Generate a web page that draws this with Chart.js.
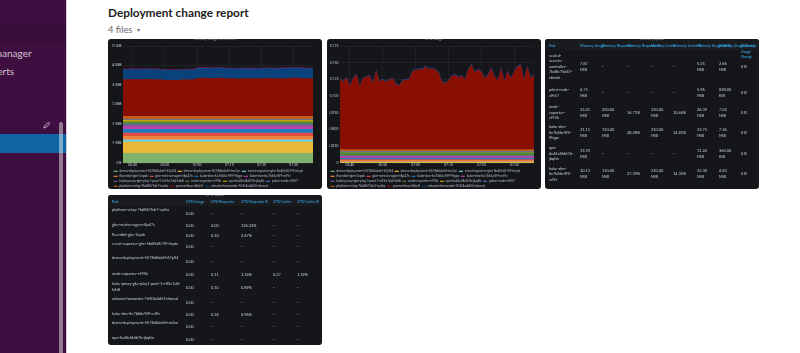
<!DOCTYPE html>
<html>
<head>
<meta charset="utf-8">
<title>Deployment change report</title>
<script src="https://cdn.jsdelivr.net/npm/chart.js@4"></script>
<style>
  html, body { margin: 0; padding: 0; width: 800px; height: 353px; overflow: hidden; background: #fff; font-family: Lato, sans-serif; }
  .abs { position: absolute; white-space: nowrap; }
  #sidebar { position: absolute; left: 0; top: 0; width: 66px; height: 353px; background: #3f0e40; border-right: 1px solid #d9cfd9; overflow: hidden; }
  #sidebar .item { color: #cfc3cf; font-size: 10px; }
  #heading { left: 108px; top: 5px; font-size: 11.8px; font-weight: 700; color: #1d1c1d; }
  #files { left: 108px; top: 24px; font-size: 9.4px; color: #696969; }
  .panel { position: absolute; width: 214px; height: 150px; background: #141619; border-radius: 3px; overflow: hidden; filter: blur(0.35px); }
  .panel canvas { position: absolute; left: 0; top: 0; }
  .title { position: absolute; left: 0; right: 0; top: -3.5px; text-align: center; font-size: 3.6px; color: #9fa7b0; z-index: 2; }
  table { position: absolute; left: 0; top: 0; border-collapse: collapse; table-layout: fixed; font-size: 3.9px; line-height: 5.6px; color: #c7d0d9; }
  th { color: #33a2e5; font-size: 3.7px; font-weight: 600; text-align: left; padding: 4px 0 0 0; vertical-align: top; background: #191b1f; }
  th div { height: 5px; white-space: pre; overflow: visible; }
  td { padding: 0; vertical-align: middle; white-space: pre-line; }
  td.pod { vertical-align: top; padding-top: 1px; padding-left: 4px; }
  th:first-child { padding-left: 4px; }
  .mem td.pod { vertical-align: middle; padding-top: 0; }
</style>
</head>
<body>

<div id="sidebar">
  <div class="abs item" style="left:-27px;top:-10px">Slack alerts</div>
  <div class="abs" style="left:0;top:25px;width:66px;height:18px;background:#350d36"></div>
  <div class="abs item" style="left:-26px;top:47px">alertmanager</div>
  <div class="abs item" style="left:-10px;top:65px">alerts</div>
  <svg class="abs" style="left:43px;top:121px" width="8" height="8" viewBox="0 0 8 8">
    <path d="M1 7 L1.4 5.2 L5.4 1.2 L6.8 2.6 L2.8 6.6 Z" fill="none" stroke="#e6dde6" stroke-width="0.8"/>
  </svg>
  <div class="abs" style="left:0;top:134px;width:66px;height:19px;background:#1164a3"></div>
  <div class="abs" style="left:59px;top:122px;width:4px;height:240px;border-radius:2px;background:rgba(255,255,255,0.45)"></div>
</div>

<div class="abs" id="heading">Deployment change report</div>
<div class="abs" id="files">4 files <span style="font-size:6px;margin-left:2px;vertical-align:1px;color:#696969">&#9662;</span></div>

<div class="panel" style="left:108px;top:39px">
  <canvas id="memChart" width="214" height="164"></canvas>
  <div class="title">Memory Usage (w/o cache)</div>
</div>
<div class="panel" style="left:327px;top:39px">
  <canvas id="cpuChart" width="214" height="164"></canvas>
  <div class="title">CPU Usage</div>
</div>
<div class="panel" style="left:545px;top:39px">
  <table class="mem" id="memTable"></table>
  <div class="title">Memory Quota</div>
</div>
<div class="panel" style="left:108px;top:195px">
  <table class="cpu" id="cpuTable"></table>
  <div class="title">CPU Quota</div>
</div>

<script>
const times = [
    '06:37', '06:38', '06:39', '06:40', '06:41', '06:42', '06:43', '06:44', '06:45', '06:46',
    '06:47', '06:48', '06:49', '06:50', '06:51', '06:52', '06:53', '06:54', '06:55', '06:56',
    '06:57', '06:58', '06:59', '07:00', '07:01', '07:02', '07:03', '07:04', '07:05', '07:06',
    '07:07', '07:08', '07:09', '07:10', '07:11', '07:12', '07:13', '07:14', '07:15', '07:16',
    '07:17', '07:18', '07:19', '07:20', '07:21', '07:22', '07:23', '07:24', '07:25', '07:26',
    '07:27', '07:28', '07:29', '07:30', '07:31', '07:32', '07:33', '07:34', '07:35', '07:36'
];

const pods = [
    'demo-deployment-5578d6dc6f-67p94', 'demo-deployment-5578d6dc6f-tm2zn',
    'event-exporter-gke-5b4f6d57f9-fnrpb', 'fluentbit-gke-2cpsk',
    'gke-metrics-agent-8p47s', 'kube-dns-6c7b66c9f9-9fqpx',
    'kube-dns-6c7b66c9f9-crl9v', 'kube-proxy-gke-play1-pool-1-cff5e1d4-h4t8',
    'node-exporter-vf95k', 'ops-6c46cf4d67b-jbqhb',
    'pdcsi-node-z9t57', 'platform-relay-7bd867fcb7-sx4rx',
    'prometheus-kbb-0', 'robusta-forwarder-7b9f4c4d55-dwcsd',
    'sealed-secrets-controller-7bd8c75d47-c6xwh'
];

const podColors = [
    '#7eb26d', '#eab839', '#6ed0e0', '#ef843c', '#e24d42', '#1f78c1', '#ba43a9', '#705da0',
    '#508642', '#cca300', '#447ebc', '#c15c17', '#890f02', '#0a437c', '#6d1f62'
];

// the small pods are flat over the hour, one reading per pod (first 12 pods)
const memFlat = [97, 110, 23, 33, 34, 36, 30, 15, 28, 14, 9, 31];
const cpuFlat = [0.0003, 0.0012, 0.0003, 0.0024, 0.0014, 0.0018, 0.0026, 0.0012, 0.0050, 0.0002, 0.0010, 0.0030];

const memPrometheus = [
    358, 360, 358, 360, 361, 359, 360, 358, 361, 360,
    359, 358, 357, 354, 352, 351, 353, 352, 355, 358,
    357, 356, 358, 368, 374, 372, 373, 371, 369, 372,
    374, 371, 369, 367, 368, 366, 365, 368, 370, 367,
    369, 368, 366, 368, 370, 372, 369, 368, 366, 367,
    369, 370, 372, 373, 374, 371, 369, 368, 370, 369
];
const memRobusta = [
    98, 97, 99, 98, 97, 98, 97, 99, 98, 98,
    97, 98, 97, 96, 97, 98, 96, 97, 97, 96,
    97, 96, 97, 99, 98, 96, 97, 98, 97, 96,
    97, 98, 96, 97, 98, 96, 97, 95, 96, 97,
    96, 97, 96, 95, 96, 97, 98, 96, 97, 98,
    99, 98, 97, 96, 98, 97, 96, 95, 96, 97
];
const memSealed = [
    8, 8, 8, 8, 8, 8, 8, 8, 8, 8, 8, 8, 8, 8, 8, 8, 8, 8, 8, 8,
    8, 8, 8, 8, 8, 8, 8, 8, 8, 8, 8, 8, 8, 8, 8, 8, 8, 8, 8, 8,
    8, 8, 8, 8, 8, 8, 8, 8, 8, 8, 8, 8, 8, 8, 8, 8, 8, 8, 8, 8
];

const cpuPrometheus = [
    0.1062, 0.1012, 0.1078, 0.0950, 0.1062, 0.1122, 0.0945, 0.1062, 0.1088, 0.1098,
    0.0990, 0.1175, 0.1020, 0.1040, 0.1010, 0.1037, 0.1062, 0.0986, 0.0950, 0.1027,
    0.1037, 0.1047, 0.1165, 0.1190, 0.1200, 0.1200, 0.1240, 0.1200, 0.1215, 0.1190,
    0.1150, 0.1012, 0.0986, 0.1027, 0.1098, 0.1114, 0.1078, 0.1098, 0.1047, 0.1190,
    0.1267, 0.1150, 0.1190, 0.1165, 0.1062, 0.1114, 0.1215, 0.1088, 0.1037, 0.1215,
    0.1027, 0.1165, 0.1062, 0.1165, 0.1240, 0.1257, 0.1037, 0.1240, 0.1062, 0.1114
];
const cpuRobusta = [
    0.0012, 0.0013, 0.0012, 0.0011, 0.0012, 0.0013, 0.0012, 0.0012, 0.0011, 0.0012,
    0.0013, 0.0012, 0.0012, 0.0011, 0.0012, 0.0013, 0.0012, 0.0012, 0.0011, 0.0012,
    0.0013, 0.0012, 0.0012, 0.0011, 0.0012, 0.0013, 0.0012, 0.0012, 0.0011, 0.0012,
    0.0013, 0.0012, 0.0012, 0.0011, 0.0012, 0.0013, 0.0012, 0.0012, 0.0011, 0.0012,
    0.0013, 0.0012, 0.0012, 0.0011, 0.0012, 0.0013, 0.0012, 0.0012, 0.0011, 0.0012,
    0.0013, 0.0012, 0.0012, 0.0011, 0.0012, 0.0013, 0.0012, 0.0012, 0.0011, 0.0012
];
const cpuSealed = [
    0.0002, 0.0002, 0.0002, 0.0002, 0.0002, 0.0002, 0.0002, 0.0002, 0.0002, 0.0002,
    0.0002, 0.0002, 0.0002, 0.0002, 0.0002, 0.0002, 0.0002, 0.0002, 0.0002, 0.0002,
    0.0002, 0.0002, 0.0002, 0.0002, 0.0002, 0.0002, 0.0002, 0.0002, 0.0002, 0.0002,
    0.0002, 0.0002, 0.0002, 0.0002, 0.0002, 0.0002, 0.0002, 0.0002, 0.0002, 0.0002,
    0.0002, 0.0002, 0.0002, 0.0002, 0.0002, 0.0002, 0.0002, 0.0002, 0.0002, 0.0002,
    0.0002, 0.0002, 0.0002, 0.0002, 0.0002, 0.0002, 0.0002, 0.0002, 0.0002, 0.0002
];

const memTicks = ['0 B', '191 MiB', '381 MiB', '572 MiB', '763 MiB', '954 MiB', '1.12 GiB'];
const cpuTicks = ['0', '0.0250', '0.0500', '0.0750', '0.100', '0.125', '0.150', '0.175'];

const memColumns = ['Pod', 'Memory Usage', 'Memory Requests', 'Memory Requests %', 'Memory Limits', 'Memory Limits %', 'Memory Usage (RSS)', 'Memory Usage (Cache)', 'Memory\nUsage\n(Swap)'];
const memRows = [
    ['sealed-\nsecrets-\ncontroller-\n7bd8c75d47-\nc6xwh', '7.87\nMiB', '-', '-', '-', '-', '5.25\nMiB', '2.66\nMiB', '0 B'],
    ['pdcsi-node-\nz9t57', '6.75\nMiB', '-', '-', '-', '-', '5.96\nMiB', '828.00\nKiB', '0 B'],
    ['node-\nexporter-\nvf95k', '33.41\nMiB', '200.00\nMiB', '16.71%', '320.00\nMiB', '10.44%', '26.39\nMiB', '7.02\nMiB', '0 B'],
    ['kube-dns-\n6c7b66c9f9-\n9fqpx', '31.11\nMiB', '110.00\nMiB', '28.28%', '210.00\nMiB', '14.81%', '23.75\nMiB', '7.36\nMiB', '0 B'],
    ['ops-\n6c46cf4d67b-\njbqhb', '13.92\nMiB', '-', '-', '-', '-', '11.24\nMiB', '364.00\nKiB', '0 B'],
    ['kube-dns-\n6c7b66c9f9-\ncrl9v', '30.13\nMiB', '110.00\nMiB', '27.39%', '210.00\nMiB', '14.35%', '25.30\nMiB', '4.83\nMiB', '0 B'],
    ['event-', '', '', '', '', '', '', '', '']
];

const cpuColumns = ['Pod', 'CPU Usage', 'CPU Requests', 'CPU Requests %', 'CPU Limits', 'CPU Limits %'];
const cpuRows = [
    ['platform-relay-7bd867fcb7-sx4rx', '0.00', '-', '-', '-', '-'],
    ['gke-metrics-agent-8p47s', '0.00', '0.00', '126.33%', '-', '-'],
    ['fluentbit-gke-2cpsk', '0.00', '0.10', '2.67%', '-', '-'],
    ['event-exporter-gke-5b4f6d57f9-fnrpb', '0.00', '-', '-', '-', '-'],
    ['demo-deployment-5578d6dc6f-67p94', '0.00', '-', '-', '-', '-'],
    ['node-exporter-vf95k', '0.00', '0.11', '3.34%', '0.27', '1.39%'],
    ['kube-proxy-gke-play1-pool-1-cff5e1d4-\nh4t8', '0.00', '0.10', '0.89%', '-', '-'],
    ['robusta-forwarder-7b9f4c4d55-dwcsd', '0.00', '-', '-', '-', '-'],
    ['kube-dns-6c7b66c9f9-crl9v', '0.00', '0.26', '0.96%', '-', '-'],
    ['demo-deployment-5578d6dc6f-tm2zn', '0.00', '-', '-', '-', '-'],
    ['ops-6c46cf4d67b-jbqhb', '0.00', '-', '-', '-', '-']
];

function stackedChart(id, flat, top3, maxY, step, tickLabels, padding) {
    const series = flat.map(level => times.map(() => level)).concat(top3);
    new Chart(document.getElementById(id), {
        type: 'line',
        data: {
            labels: times,
            datasets: pods.map((pod, i) => ({
                label: pod,
                data: series[i],
                borderColor: podColors[i],
                backgroundColor: podColors[i],
                borderWidth: 0,
                pointRadius: 0,
                tension: 0,
                fill: 'origin',
                stack: 'pods'
            }))
        },
        options: {
            responsive: false,
            animation: false,
            layout: { padding: padding },
            plugins: {
                tooltip: { enabled: false },
                legend: {
                    position: 'bottom',
                    align: 'start',
                    labels: {
                        color: '#aeb6bf',
                        boxWidth: 4,
                        boxHeight: 1.2,
                        padding: 1.6,
                        font: { size: 3.4, lineHeight: 1, family: 'Roboto' }
                    }
                }
            },
            scales: {
                x: {
                    stacked: true,
                    offset: false,
                    grid: { color: 'rgba(255,255,255,0.09)', lineWidth: 0.6, drawTicks: false },
                    border: { display: false },
                    afterBuildTicks: scale => {
                        scale.ticks = scale.ticks.filter(t => times[t.value].endsWith('0'));
                    },
                    afterFit: scale => { scale.height = 5; },
                    ticks: {
                        autoSkip: false,
                        maxRotation: 0,
                        color: '#c7d0d9',
                        padding: 0,
                        font: { size: 3.5, family: 'Roboto' },
                        callback: function (value) { return times[value]; }
                    }
                },
                y: {
                    stacked: true,
                    min: 0,
                    max: maxY,
                    grid: { color: 'rgba(255,255,255,0.09)', lineWidth: 0.6, drawTicks: false },
                    border: { display: false },
                    afterFit: scale => { scale.width = 11; },
                    ticks: {
                        stepSize: step,
                        color: '#c7d0d9',
                        padding: 1.5,
                        font: { size: 3.5, family: 'Roboto' },
                        callback: function (value, index) { return tickLabels[index]; }
                    }
                }
            }
        }
    });
}

function fillTable(id, columns, rows, colWidths, rowHeights) {
    let html = '<colgroup>' + colWidths.map(w => `<col style="width:${w}px">`).join('') + '</colgroup>';
    html += `<tr style="height:${rowHeights[0]}px">` + columns.map(c => `<th><div>${c}</div></th>`).join('') + '</tr>';
    rows.forEach((row, r) => {
        html += `<tr style="height:${rowHeights[r + 1]}px">`;
        row.forEach((cell, c) => {
            html += `<td${c === 0 ? ' class="pod"' : ''}>${cell}</td>`;
        });
        html += '</tr>';
    });
    const table = document.getElementById(id);
    table.style.width = colWidths.reduce((a, b) => a + b, 0) + 'px';
    table.innerHTML = html;
}

stackedChart('memChart', memFlat, [memPrometheus, memRobusta, memSealed], 1144.2, 190.7, memTicks,
    { left: 4, right: 9, top: 7, bottom: 0 });
stackedChart('cpuChart', cpuFlat, [cpuPrometheus, cpuRobusta, cpuSealed], 0.175, 0.025, cpuTicks,
    { left: 2, right: 7, top: 7, bottom: 0 });

fillTable('memTable', memColumns, memRows,
    [35, 22, 25, 24, 22, 24, 22, 22, 18],
    [11, 33, 20, 19, 21, 21, 20, 12]);
fillTable('cpuTable', cpuColumns, cpuRows,
    [78, 25, 30, 32, 24, 25],
    [11, 15, 10, 9, 14, 16, 10, 15, 15, 9, 15, 11]);
</script>
</body>
</html>
